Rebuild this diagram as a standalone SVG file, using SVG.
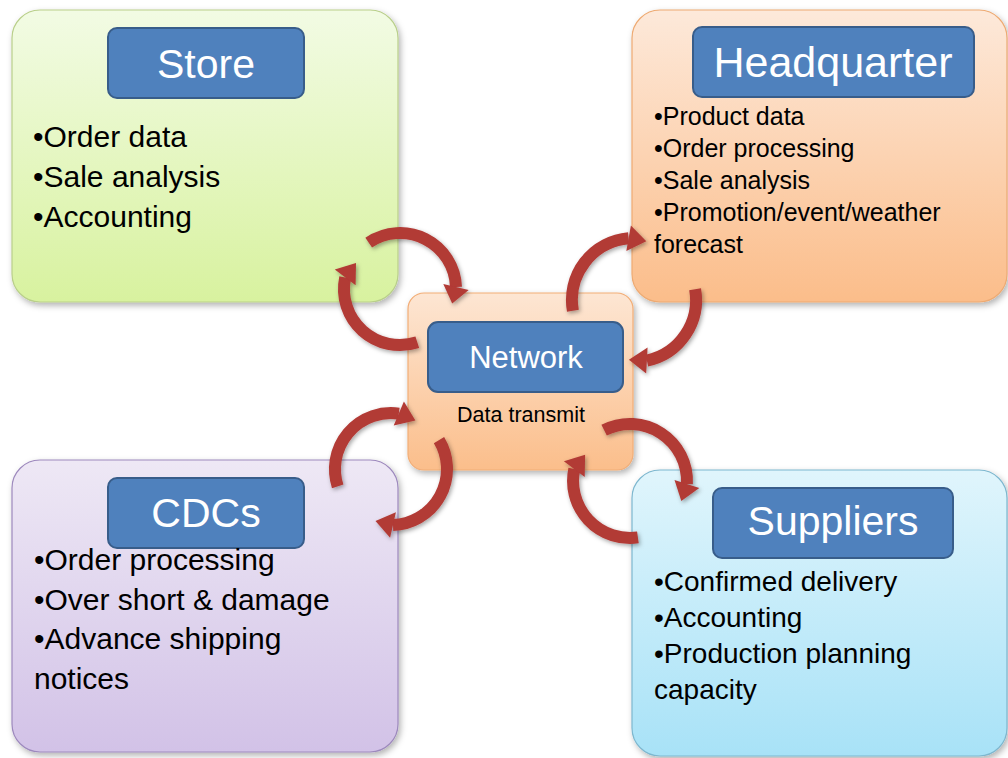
<svg xmlns="http://www.w3.org/2000/svg" width="1008" height="758" viewBox="0 0 1008 758">
<defs>
<linearGradient id="gStore" x1="0" y1="0" x2="0" y2="1"><stop offset="0" stop-color="#f2fbe4"/><stop offset="1" stop-color="#d8f29f"/></linearGradient>
<linearGradient id="gHQ" x1="0" y1="0" x2="0" y2="1"><stop offset="0" stop-color="#fde9da"/><stop offset="1" stop-color="#fbbd8a"/></linearGradient>
<linearGradient id="gCDC" x1="0" y1="0" x2="0" y2="1"><stop offset="0" stop-color="#eee8f5"/><stop offset="1" stop-color="#d2c2e7"/></linearGradient>
<linearGradient id="gSup" x1="0" y1="0" x2="0" y2="1"><stop offset="0" stop-color="#e0f5fc"/><stop offset="1" stop-color="#a8e2f7"/></linearGradient>
<linearGradient id="gNet" x1="0" y1="0" x2="0" y2="1"><stop offset="0" stop-color="#fde6d3"/><stop offset="1" stop-color="#fbbe8b"/></linearGradient>
<filter id="sh" x="-10%" y="-10%" width="125%" height="125%"><feDropShadow dx="2" dy="3" stdDeviation="3" flood-color="#000" flood-opacity="0.3"/></filter>
<filter id="ash" x="-20%" y="-20%" width="150%" height="150%"><feDropShadow dx="1.5" dy="2" stdDeviation="2" flood-color="#000" flood-opacity="0.35"/></filter>
</defs>
<style>
.box{stroke-width:1.2}
.title{fill:#4f81bd;stroke:#385d8a;stroke-width:2}
.tt{font-family:"Liberation Sans",Arial,sans-serif;fill:#fff;text-anchor:middle;font-size:41px}
.tn{font-family:"Liberation Sans",Arial,sans-serif;fill:#fff;text-anchor:middle;font-size:31px}
.bl{font-family:"Liberation Sans",Arial,sans-serif;fill:#000}
.arc{fill:none;stroke:#b23a36;stroke-width:12}
.hd{fill:#b23a36}
</style>
<rect width="1008" height="758" fill="#fff"/>
<g id="store">
<rect class="box" x="12" y="10" width="386" height="292" rx="28" fill="url(#gStore)" stroke="#b9cf8a" filter="url(#sh)"/>
<rect class="title" x="108" y="28" width="196" height="70" rx="9"/>
<text class="tt" x="206" y="78">Store</text>
<text class="bl" font-size="30"><tspan x="33" y="147">•Order data</tspan><tspan x="33" y="187">•Sale analysis</tspan><tspan x="33" y="227">•Accounting</tspan></text>
</g>
<g id="headquarter">
<rect class="box" x="632" y="10" width="375" height="292" rx="28" fill="url(#gHQ)" stroke="#eeaa72" filter="url(#sh)"/>
<rect class="title" x="693" y="27" width="281" height="70" rx="9"/>
<text class="tt" x="833" y="77" style="font-size:43px">Headquarter</text>
<text class="bl" font-size="25"><tspan x="654" y="125">•Product data</tspan><tspan x="654" y="157">•Order processing</tspan><tspan x="654" y="189">•Sale analysis</tspan><tspan x="654" y="221">•Promotion/event/weather</tspan><tspan x="654" y="253">forecast</tspan></text>
</g>
<g id="cdcs">
<rect class="box" x="12" y="460" width="386" height="292" rx="28" fill="url(#gCDC)" stroke="#9d89bd" filter="url(#sh)"/>
<rect class="title" x="108" y="478" width="196" height="70" rx="9"/>
<text class="tt" x="206" y="527">CDCs</text>
<text class="bl" font-size="30"><tspan x="34" y="570">•Order processing</tspan><tspan x="34" y="610">•Over short &amp; damage</tspan><tspan x="34" y="649">•Advance shipping</tspan><tspan x="34" y="689">notices</tspan></text>
</g>
<g id="suppliers">
<rect class="box" x="632" y="470" width="375" height="286" rx="28" fill="url(#gSup)" stroke="#7db7cf" filter="url(#sh)"/>
<rect class="title" x="713" y="488" width="240" height="70" rx="9"/>
<text class="tt" x="833" y="535">Suppliers</text>
<text class="bl" font-size="28"><tspan x="654" y="591">•Confirmed delivery</tspan><tspan x="654" y="627">•Accounting</tspan><tspan x="654" y="663">•Production planning</tspan><tspan x="654" y="699">capacity</tspan></text>
</g>
<g id="network">
<rect class="box" x="408" y="293" width="225" height="177" rx="16" fill="url(#gNet)" stroke="#f2ad76" filter="url(#sh)"/>
<rect class="title" x="428" y="322" width="195" height="70" rx="10"/>
<text class="tn" x="526" y="368">Network</text>
<text class="bl" x="521" y="422" font-size="21.5" text-anchor="middle">Data transmit</text>
</g>
<g id="connectors" filter="url(#ash)">
<path class="arc" d="M368.7 242.6 A56 56 0 0 1 456 287"/>
<polygon class="hd" points="452.2,303.6 443.3,284.1 468.7,289.9"/>
<path class="arc" d="M417.3 342.3 A56 56 0 0 1 345.2 277.4"/>
<polygon class="hd" points="356,263 355.6,285.2 334.8,269.6"/>
<path class="arc" d="M572.9 310.8 A62 62 0 0 1 628.6 238.2"/>
<polygon class="hd" points="646.3,241.3 626.3,251 630.9,225.4"/>
<path class="arc" d="M695.1 289.2 A62 62 0 0 1 646.9 360.6"/>
<polygon class="hd" points="628.9,359.7 647.6,347.6 646.2,373.6"/>
<path class="arc" d="M337.7 486.3 A56 56 0 0 1 398.8 413.6"/>
<polygon class="hd" points="415.4,420.6 393.7,425.6 403.9,401.6"/>
<path class="arc" d="M439 440.2 A56 56 0 0 1 393 525"/>
<polygon class="hd" points="375.5,521 395.9,512.3 390.1,537.7"/>
<path class="arc" d="M604.1 430.2 A57 57 0 0 1 686.9 484"/>
<polygon class="hd" points="681.3,501.1 674.5,480 699.3,488"/>
<path class="arc" d="M637.9 537.4 A57 57 0 0 1 574.3 469.1"/>
<polygon class="hd" points="585.1,454.7 584.7,476.9 563.9,461.3"/>
</g>
</svg>
